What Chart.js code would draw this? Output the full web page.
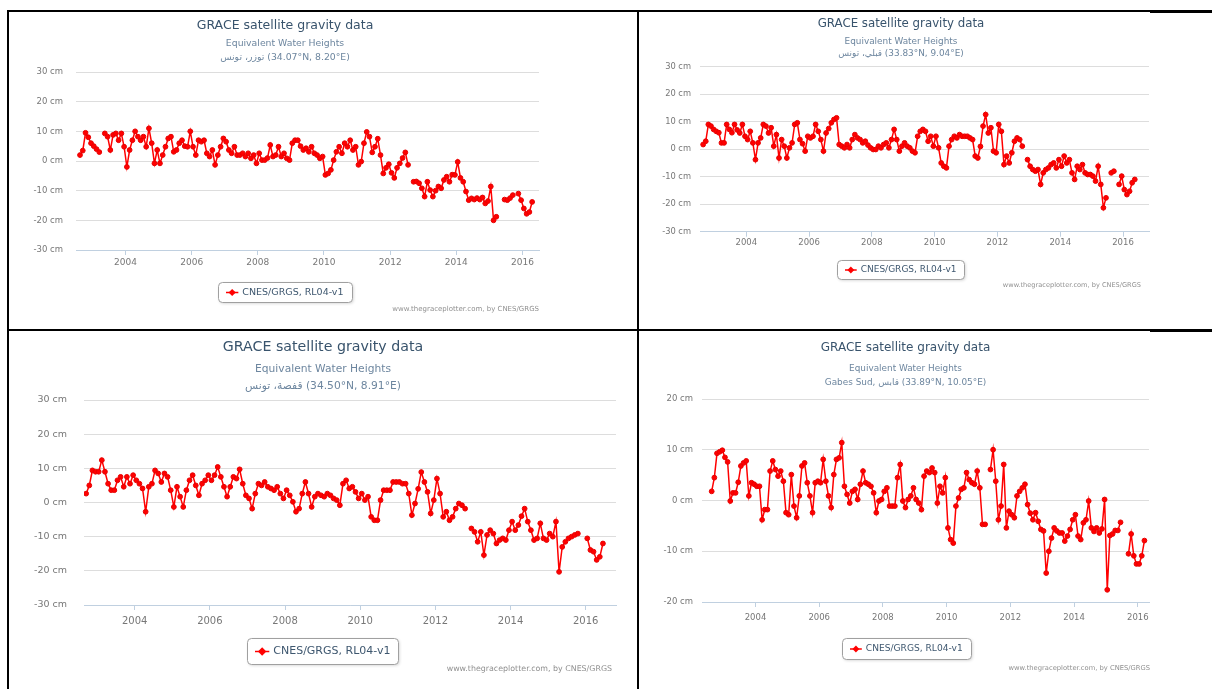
<!DOCTYPE html>
<html>
<head>
<meta charset="utf-8">
<title>GRACE satellite gravity data</title>
<script src="https://cdn.jsdelivr.net/npm/chart.js@4.4.1/dist/chart.umd.min.js"></script>
<style>
  html, body { margin: 0; padding: 0; background: #fff; width: 1212px; height: 689px; overflow: hidden; position: relative; }
  canvas { position: absolute; }
  .rule { position: absolute; background: #000; }
</style>
</head>
<body>
<!-- table frame -->
<div class="rule" style="left:7px;top:10px;width:1143px;height:2px"></div>
<div class="rule" style="left:1150px;top:10px;width:62px;height:3px"></div>
<div class="rule" style="left:7px;top:10px;width:2px;height:679px"></div>
<div class="rule" style="left:637px;top:10px;width:2px;height:679px"></div>
<div class="rule" style="left:7px;top:329px;width:1143px;height:2px"></div>
<div class="rule" style="left:1150px;top:329px;width:62px;height:3px"></div>

<canvas id="tozeur"></canvas>
<canvas id="kebili"></canvas>
<canvas id="gafsa"></canvas>
<canvas id="gabes"></canvas>

<script>
// ---- data: equivalent water height (cm), one value per month from August 2002; null = missing month
const firstYear = 2002;
const firstMonth = 8;

const tozeurCm = [
  2, 3.5, 9.5, 8, 6,                                          // 2002
  5, 4, 3, null, 9.3, 8.2, 3.7, 8.8, 9.3, 7, 9.3, 4.8,        // 2003
  -2, 3.7, 7, 10, 8.2, 7, 8.2, 4.8, 11, 6, -0.8, 3.7,         // 2004
  -0.8, 2, 4.8, 7.6, 8.2, 3.1, 3.7, 6, 7, 5, 4.8, 10,         // 2005
  4.8, 2, 7, 6.5, 7, 2.6, 1.5, 3.7, -1.3, 2, 4.8, 7.6,        // 2006
  6.5, 3.7, 2.6, 4.8, 2, 2, 2.6, 1.5, 2.6, 0.9, 2, -0.8,      // 2007
  2.6, 0.3, 0.3, 1, 5.4, 1.5, 2, 4.8, 1.5, 2.6, 0.9, 0.3,     // 2008
  6, 7, 7, 5, 3.7, 4.3, 3.1, 4.8, 2.6, 2, 0.9, 1.5,           // 2009
  -4.7, -4.2, -3, 0.3, 3.1, 4.8, 2.6, 6, 4.8, 7, 3.7, 4.8,    // 2010
  -1.3, -0.2, 6, 9.8, 8.2, 2.9, 4.8, 7.5, 2, -4.2, -2.3, -1.1,// 2011
  -4, -5.7, -2.3, -0.8, 1, 2.9, -1.3, null, -7, -6.9, -7.5, -9.2, // 2012
  -12, -7, -9.8, -12, -10, -8.6, -9.2, -6.4, -5.3, -7, -4.6, -4.7, // 2013
  -0.3, -5.7, -7, -10.3, -13.2, -12.6, -13, -12.5, -13, -12.3, -14.3, -13.5, // 2014
  -8.6, -20, -18.8, null, null, -13, -13.2, -12.5, -11.5, null, -11, -13.2, // 2015
  -16, -17.8, -17.2, -13.8                                    // 2016
];

const kebiliCm = [
  1.7, 2.9, 9, 8.4, 7.2,                                      // 2002
  6.5, 6, 2.3, 2.3, 9, 7.2, 6, 9, 7, 5.9, 9, 4.7,             // 2003
  3.5, 6.5, 2.3, -3.8, 2.3, 4.1, 9, 8.4, 5.9, 7.8, 1.1, 5.3,  // 2004
  -3.2, 3.5, 1.1, -3.2, 0.5, 2.3, 9, 9.6, 3.5, 2, -0.7, 4.7,  // 2005
  4.1, 4.7, 9, 6.5, 3.5, -0.7, 5.9, 7.5, 9.6, 10.8, 11.4, 1.7,// 2006
  1.1, 0.5, 1.7, 0.5, 3.5, 5.3, 4.1, 3.5, 2.3, 2.9, 1.5, 0.5, // 2007
  -0.1, -0.1, 1.1, 0.5, 1.7, 2.3, 0.5, 3.5, 7.2, 3.5, -0.7, 1.1, // 2008
  2.3, 1.1, 0.5, -0.7, -1.3, 4.7, 6.5, 7.2, 6.5, 2.9, 4.7, 1.1,  // 2009
  4.7, 0.5, -5, -6.2, -6.8, 1.1, 3.5, 4.7, 4.1, 5.3, 4.7, 4.7,   // 2010
  4.7, 4.1, 3.5, -2.5, -3.2, 1, 8.4, 12.6, 5.9, 7.8, -0.7, -1.3, // 2011
  9, 6.5, -5.6, -2.5, -5, -1.3, 2.9, 4.1, 3.5, 1.1, null, -3.8,     // 2012
  -6.2, -7.4, -8, -7.4, -12.8, -8.6, -7.4, -6.8, -5.6, -5, -6.8, -3.8, // 2013
  -6.2, -2.5, -5, -3.8, -8.6, -11, -6.2, -7.4, -5.6, -8.6, -9.2, -9.2,   // 2014
  -9.8, -11.6, -6.2, -12.8, -21.3, -17.7, null, -8.6, -8, null, -12.8, -9.8, // 2015
  -14.7, -16.5, -15.3, -12.2, -11                             // 2016
];

const gafsaCm = [
  null, 2.6, 5, 9.4, 9,                                       // 2002
  9, 12.4, 9, 5.5, 3.6, 3.6, 6.5, 7.5, 4.6, 7.5, 5.5, 8,      // 2003
  6.5, 5.5, 4.1, -2.7, 4.6, 5.5, 9.4, 8.5, 6, 8.5, 7.5, 3.6,  // 2004
  -1.3, 4.6, 1.7, -1.3, 3.6, 6.5, 8, 5, 2.1, 5.5, 6.5, 8,     // 2005
  6.5, 8, 10.4, 7.5, 4.6, 1.7, 4.6, 7.5, 7, 9.7, 5.5, 2.1,    // 2006
  1.2, -1.8, 2.6, 5.5, 5, 6, 4.6, 4.1, 3.6, 4.6, 2.6, 1.2,    // 2007
  3.6, 2.1, 0.2, -2.7, -1.8, 2.6, 6, 2.6, -1.3, 1.7, 2.6, 2.1,// 2008
  1.7, 2.6, 2.1, 1.2, 0.7, -0.8, 5.5, 6.5, 4.1, 4.6, 3.1, 1.2,// 2009
  2.6, 0.7, 1.7, -4.2, -5.2, -5.2, 0.7, 3.6, 3.6, 3.6, 6, 6,  // 2010
  6, 5.5, 5.5, 2.6, -3.7, -0.3, 4, 8.9, 6, 3.1, -3.2, 0.7,    // 2011
  7, 2.6, -4.2, -2.7, -5.2, -4.2, -1.8, -0.3, -0.8, -1.8, null, -7.6, // 2012
  -8.6, -11.5, -8.6, -15.4, -9.5, -8.1, -9.1, -12, -11, -10.5, -11, -8.1, // 2013
  -5.6, -8.1, -6.6, -4, -1.8, -5.6, -8.1, -11, -10.5, -6.1, -10.5, -11, // 2014
  -9.1, -10, -5.6, -20.3, -13, -11.5, -10.5, -10, -9.5, -9.1, null, null, // 2015
  -10.5, -13.9, -14.4, -16.8, -15.9, -12                      // 2016
];

const gabesCm = [
  1.8, 4.5, 9.3, 9.6, 9.9,                                    // 2002
  8.5, 7.6, -0.1, 1.5, 1.5, 3.6, 6.8, 7.4, 7.8, 0.9, 3.5, 3.2,// 2003
  2.8, 2.8, -3.8, -1.8, -1.8, 5.8, 7.8, 6.1, 4.8, 5.8, 3.8, -2.4, // 2004
  -2.8, 5.1, -1.1, -3.4, 0.9, 6.8, 7.4, 3.5, 0.9, -2.4, 3.5, 3.8, // 2005
  3.5, 8.1, 3.8, 0.9, -1.4, 5.1, 8.1, 8.4, 11.4, 2.8, 1.2, -0.5,  // 2006
  1.8, 2.2, 0.2, 3.2, 5.8, 3.5, 3.2, 2.8, 1.5, -2.4, -0.1, 0.2,   // 2007
  1.8, 2.5, -1.1, -1.1, -1.1, 4.5, 7.1, -0.1, -1.4, 0.2, 0.9, 2.5,// 2008
  0.2, -0.5, -1.8, 4.8, 5.8, 5.5, 6.4, 5.5, -0.5, 2.8, 1.5, 4.5,  // 2009
  -5.4, -7.7, -8.4, -1.1, 0.5, 2.2, 2.5, 5.5, 4.1, 3.5, 3.2, 5.8, // 2010
  2.5, -4.7, -4.7, null, 6.1, 10, 3.8, -3.8, -1.1, 7.1, -5.4, -2.1, // 2011
  -2.8, -3.4, 0.9, 1.8, 2.5, 3.2, -0.8, -2.5, -3.8, -2.4, -4.1, -5.7, // 2012
  -6, -14.3, -10, -7.4, -5.4, -6, -6.4, -6.4, -8, -7, -5.7, -3.8, // 2013
  -2.8, -7, -7.7, -4.4, -3.8, -0.1, -5.4, -6.1, -5.4, -6.4, -5.6, 0.2,  // 2014
  -17.6, -6.9, -6.6, -5.9, -5.9, -4.3, null, null, -10.5, -6.6, -10.9, -12.5, // 2015
  -12.5, -10.9, -7.9                                          // 2016
];

const yearTicks = [2004, 2006, 2008, 2010, 2012, 2014, 2016];
const ticksWide = [-30, -20, -10, 0, 10, 20, 30];
const ticksNarrow = [-20, -10, 0, 10, 20];

const seriesName = 'CNES/GRGS, RL04-v1';
const chartTitle = 'GRACE satellite gravity data';
const subtitleTop = 'Equivalent Water Heights';
const creditText = 'www.thegraceplotter.com, by CNES/GRGS';
const LRM = '\u200E';
const places = [
  'توزر، تونس' + LRM + ' (34.07°N, 8.20°E)',
  'قبلي، تونس' + LRM + ' (33.83°N, 9.04°E)',
  'قفصة، تونس' + LRM + ' (34.50°N, 8.91°E)',
  'Gabes Sud, قابس (33.89°N, 10.05°E)'
];

// ---- page layout of the four panels (page pixel coordinates)
const panels = [
  { id: 'tozeur', values: tozeurCm, place: places[0], yTicks: ticksWide,
    box: { x: 9, y: 12, w: 628, h: 317 }, plot: { l: 76, r: 539, t: 72, b: 250 },
    xr: [2002.504, 2016.499], yr: [-30, 30], yW: 50, yRight: 63, yFont: 8.5,
    xLabY: 263, xFont: 9,
    title: { x: 285, y: 26, size: 12.5 }, sub: { y: [44, 58], size: 9.3 },
    legend: { x: 218, y: 282, w: 134, h: 20, size: 9.5 },
    credit: { x: 539, y: 309, size: 7 } },
  { id: 'kebili', values: kebiliCm, place: places[1], yTicks: ticksWide,
    box: { x: 639, y: 12, w: 573, h: 317 }, plot: { l: 700, r: 1149, t: 66.7, b: 231.7 },
    xr: [2002.525, 2016.828], yr: [-30, 30], yW: 50, yRight: 691, yFont: 8.3,
    xLabY: 243, xFont: 8.5,
    title: { x: 901, y: 24, size: 11.8 }, sub: { y: [42, 54], size: 8.9 },
    legend: { x: 837, y: 260, w: 127, h: 19, size: 9 },
    credit: { x: 1141, y: 285, size: 6.6 } },
  { id: 'gafsa', values: gafsaCm, place: places[2], yTicks: ticksWide,
    box: { x: 9, y: 331, w: 628, h: 358 }, plot: { l: 84, r: 616, t: 400, b: 605 },
    xr: [2002.651, 2016.806], yr: [-30, 30], yW: 55, yRight: 67, yFont: 9.5,
    xLabY: 621, xFont: 10,
    title: { x: 323, y: 347, size: 14.2 }, sub: { y: [369, 386], size: 10.7 },
    legend: { x: 247, y: 638, w: 151, h: 26, size: 11 },
    credit: { x: 612, y: 669, size: 7.9 } },
  { id: 'gabes', values: gabesCm, place: places[3], yTicks: ticksNarrow,
    box: { x: 639, y: 331, w: 573, h: 358 }, plot: { l: 702, r: 1149, t: 399, b: 602 },
    xr: [2002.321, 2016.352], yr: [-20, 20], yW: 50, yRight: 693, yFont: 8.5,
    xLabY: 618, xFont: 8.5,
    title: { x: 905.5, y: 348, size: 12 }, sub: { y: [369, 383], size: 8.9 },
    legend: { x: 842, y: 638, w: 129, h: 21, size: 9.1 },
    credit: { x: 1150, y: 668, size: 6.75 } }
];

const FONT = '"DejaVu Sans", Verdana, sans-serif';
Chart.defaults.font.family = FONT;

// title, subtitle, boxed legend and credits line, Highcharts style
const highchartsDecor = {
  id: 'highchartsDecor',
  afterDraw(chart, _args, o) {
    const ctx = chart.ctx;
    const ds = chart.data.datasets[0];
    ctx.save();
    ctx.textAlign = 'center';
    ctx.textBaseline = 'middle';
    ctx.fillStyle = '#38536c';
    ctx.font = o.title.size + 'px ' + FONT;
    ctx.fillText(o.titleText, o.title.x, o.title.y);
    ctx.fillStyle = '#6D869F';
    ctx.font = o.sub.size + 'px ' + FONT;
    o.subText.forEach((line, i) => ctx.fillText(line, o.title.x, o.sub.y[i]));

    // legend box
    const L = o.legend;
    ctx.save();
    ctx.shadowColor = 'rgba(0,0,0,0.18)';
    ctx.shadowBlur = 3;
    ctx.shadowOffsetX = 1;
    ctx.shadowOffsetY = 1;
    ctx.fillStyle = '#fff';
    ctx.beginPath();
    ctx.roundRect(L.x + 0.5, L.y + 0.5, L.w, L.h, 4);
    ctx.fill();
    ctx.restore();
    ctx.strokeStyle = '#A0A0A0';
    ctx.lineWidth = 1;
    ctx.beginPath();
    ctx.roundRect(L.x + 0.5, L.y + 0.5, L.w, L.h, 4);
    ctx.stroke();
    const cy = L.y + L.h / 2 + 0.5;
    const sx = L.x + 8, sw = L.size * 1.3;
    ctx.strokeStyle = ds.borderColor;
    ctx.lineWidth = 1.5;
    ctx.beginPath();
    ctx.moveTo(sx, cy);
    ctx.lineTo(sx + sw, cy);
    ctx.stroke();
    const mx = sx + sw / 2, mr = L.size * 0.38;
    ctx.fillStyle = ds.pointBackgroundColor;
    ctx.beginPath();
    ctx.moveTo(mx, cy - mr);
    ctx.lineTo(mx + mr, cy);
    ctx.lineTo(mx, cy + mr);
    ctx.lineTo(mx - mr, cy);
    ctx.closePath();
    ctx.fill();
    ctx.textAlign = 'left';
    ctx.fillStyle = '#3E576F';
    ctx.font = L.size + 'px ' + FONT;
    ctx.fillText(ds.label, sx + sw + 4, cy);

    // credits
    ctx.textAlign = 'right';
    ctx.fillStyle = '#909090';
    ctx.font = o.credit.size + 'px ' + FONT;
    ctx.fillText(o.creditText, o.credit.x, o.credit.y);
    ctx.restore();
  }
};

function monthPoints(values) {
  return values.map((v, k) => {
    const m = firstMonth - 1 + k;
    return { x: firstYear + Math.floor(m / 12) + ((m % 12) + 0.5) / 12, y: v };
  });
}

panels.forEach(p => {
  const cv = document.getElementById(p.id);
  cv.width = p.box.w;
  cv.height = p.box.h;
  cv.style.left = p.box.x + 'px';
  cv.style.top = p.box.y + 'px';
  cv.style.width = p.box.w + 'px';
  cv.style.height = p.box.h + 'px';

  const ox = p.box.x, oy = p.box.y;
  const xH = 20, tickLen = 5;
  const pad = {
    left: p.plot.l - ox - p.yW,
    right: ox + p.box.w - p.plot.r,
    top: p.plot.t - oy,
    bottom: oy + p.box.h - p.plot.b - xH
  };
  const shift = (pt) => ({ ...pt, x: pt.x - ox, y: pt.y - oy });

  new Chart(cv, {
    type: 'line',
    data: {
      datasets: [{
        label: seriesName,
        data: monthPoints(p.values),
        borderColor: '#ff0000',
        backgroundColor: '#ff0000',
        borderWidth: 1.5,
        pointRadius: 2.4,
        pointBorderWidth: 1,
        pointBackgroundColor: '#ff0000',
        pointBorderColor: '#e60000',
        spanGaps: false,
        tension: 0
      }]
    },
    options: {
      responsive: false,
      animation: false,
      devicePixelRatio: 1,
      layout: { padding: pad },
      scales: {
        x: {
          type: 'linear',
          min: p.xr[0],
          max: p.xr[1],
          afterBuildTicks: s => { s.ticks = yearTicks.map(v => ({ value: v })); },
          afterFit: s => { s.height = xH; },
          grid: { display: true, drawOnChartArea: false, drawTicks: true, tickLength: tickLen, color: '#C0D0E0' },
          border: { display: true, color: '#C0D0E0', width: 1 },
          ticks: {
            autoSkip: false, maxRotation: 0,
            padding: p.xLabY - p.plot.b - tickLen - 0.6 * p.xFont,
            color: '#777', font: { size: p.xFont },
            callback: v => String(v)
          }
        },
        y: {
          min: p.yr[0],
          max: p.yr[1],
          afterBuildTicks: s => { s.ticks = p.yTicks.map(v => ({ value: v })); },
          afterFit: s => { s.width = p.yW; },
          grid: { color: '#DDDDDD', drawTicks: false, lineWidth: 1 },
          border: { display: false },
          ticks: {
            padding: p.plot.l - p.yRight,
            color: '#777', font: { size: p.yFont },
            callback: v => v + ' cm'
          }
        }
      },
      plugins: {
        legend: { display: false },
        title: { display: false },
        tooltip: { enabled: false },
        highchartsDecor: {
          titleText: chartTitle,
          subText: [subtitleTop, p.place],
          creditText: creditText,
          title: shift(p.title),
          sub: { y: p.sub.y.map(v => v - oy), size: p.sub.size },
          legend: { ...p.legend, x: p.legend.x - ox, y: p.legend.y - oy },
          credit: shift(p.credit)
        }
      }
    },
    plugins: [highchartsDecor]
  });
});
</script>
</body>
</html>
